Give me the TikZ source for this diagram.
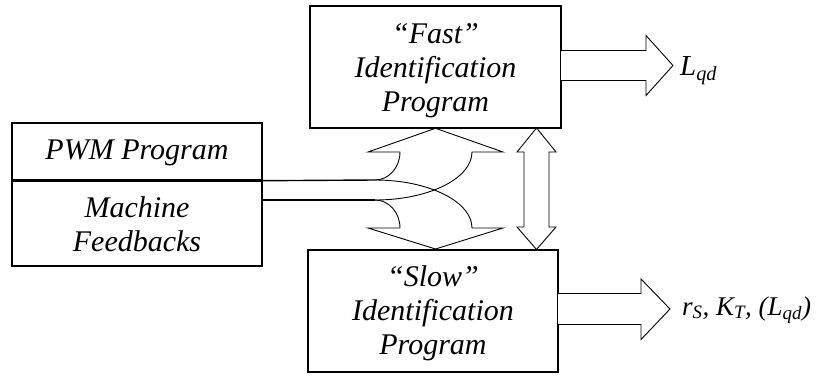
\documentclass[tikz,border=0pt]{standalone}
\usepackage{fontspec}
\setmainfont{Liberation Serif}
\begin{document}
\begin{tikzpicture}[x=1pt,y=-1pt,
  frame/.style={draw=black, line width=1.4pt, inner sep=0pt},
  boxtext/.style={align=center, inner sep=0pt, font=\fontsize{30}{34}\selectfont\itshape},
  outtext/.style={anchor=base west, inner sep=0pt, font=\fontsize{29}{32}\selectfont\itshape},
  fat/.style={draw=black, line width=0.9pt, fill=white, line join=miter},
  feed/.style={draw=black, line width=0.9pt},
]
\useasboundingbox (0,0) rectangle (822,375);

% program blocks
\node[frame, minimum width=251pt, minimum height=122pt] (fast) at (435.5,67) {};
\node[boxtext] (fasttxt) at (435.5,70.4) {“Fast”\\Identification\\Program};
\node[frame, minimum width=250pt, minimum height=122pt] (slow) at (433,311) {};
\node[boxtext] (slowtxt) at (433,313.5) {“Slow”\\Identification\\Program};

% input blocks
\node[frame, minimum width=250pt, minimum height=57pt] (pwm) at (137,151.5) {};
\node[boxtext] (pwmtxt) at (137,153.3) {PWM Program};
\node[frame, minimum width=250pt, minimum height=86pt] (mach) at (137,223) {};
\node[boxtext] (machtxt) at (137,223.8) {Machine\\Feedbacks};
\draw[line width=3pt] (pwm.south west) -- (pwm.south east);

% signal lines leaving the input blocks
\coordinate (pwmend) at (375,180);
\coordinate (machend) at (375,200);
\draw[line width=1.4pt] (pwm.south east) -- (pwmend);
\draw[line width=2pt] (mach.east |- machend) -- (machend);

% merged arrows towards both identification programs
\draw[feed] (pwmend) .. controls (388.8,180) and (400,167.5) .. (400,152)
  -- (368,152) -- (435.5,128.3) -- (503,152) -- (472,152)
  .. controls (472,178.5) and (428.6,200) .. (machend);
\draw[feed] (pwmend) .. controls (428.6,180) and (472,201.5) .. (472,228)
  -- (503,228) -- (435.5,249) -- (368,228) -- (400,228)
  .. controls (400,212.5) and (388.8,200) .. (machend);

% exchange between the two programs
\draw[fat] (536.5,128) -- (556,152) -- (549,152) -- (549,227) -- (556,227)
  -- (536.5,249.5) -- (517,227) -- (524,227) -- (524,152) -- (517,152) -- cycle;

% outputs
\draw[fat] (561,50.5) -- (646,50.5) -- (646,35.5) -- (673,65.5)
  -- (646,95.5) -- (646,80.5) -- (561,80.5);
\node[outtext] (lqd) at (680,75) {L\textsubscript{qd}};
\draw[fat] (558,293.5) -- (641,293.5) -- (641,279) -- (670,309)
  -- (641,339.5) -- (641,324.5) -- (558,324.5);
\node[outtext, font=\fontsize{27}{30}\selectfont\itshape] (params) at (682,315)
  {r\textsubscript{S}, K\textsubscript{T}, (L\textsubscript{qd})};
\end{tikzpicture}
\end{document}
